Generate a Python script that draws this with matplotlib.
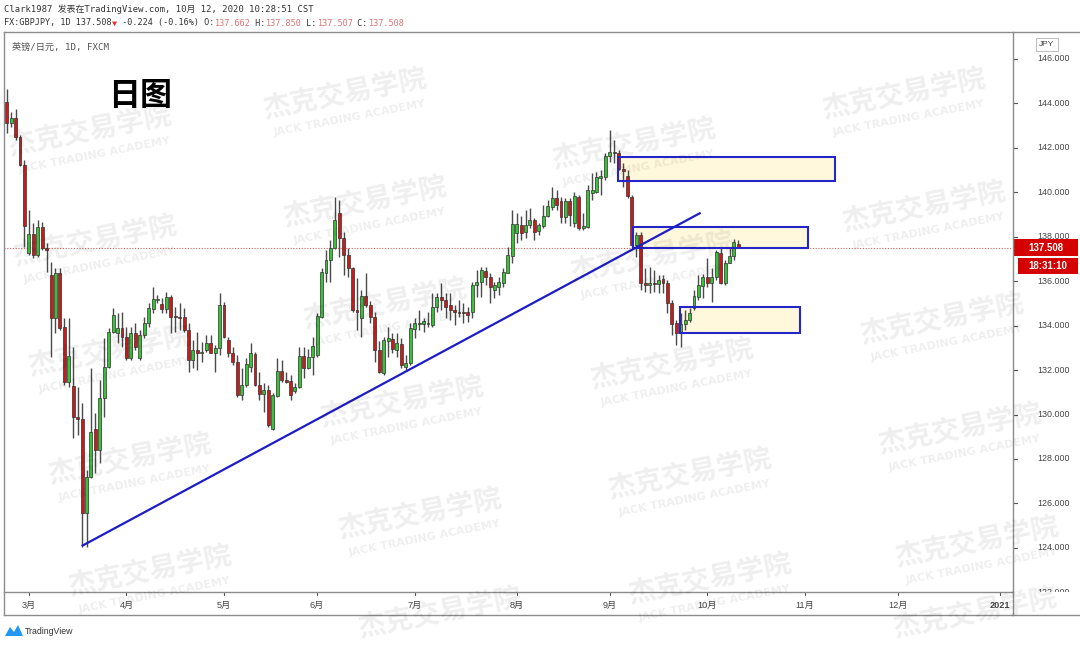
import matplotlib
matplotlib.use('Agg')
import matplotlib.pyplot as plt
from matplotlib.patches import Rectangle, Polygon
from matplotlib.lines import Line2D
import numpy as np

W, H = 1080, 645

# GBPJPY daily bars (late Feb -> 12 Oct 2020)
opens = [144.08, 143.10, 143.33, 142.47, 141.23, 137.26, 138.13, 137.18, 138.43, 137.48,
         136.28, 134.33, 136.36, 133.95, 131.48, 131.28, 129.90, 129.78, 125.58, 127.21,
         129.34, 128.41, 130.73, 132.16, 133.73, 133.65, 133.88, 133.50, 132.53, 133.66,
         132.53, 133.58, 134.10, 134.74, 135.15, 134.97, 134.74, 135.28, 134.41, 134.38,
         134.37, 133.80, 132.46, 132.90, 132.78, 132.90, 133.23, 132.78, 132.98, 134.93,
         133.35, 132.75, 132.38, 130.88, 131.33, 132.15, 132.72, 131.33, 130.91, 131.10,
         129.33, 130.83, 131.97, 131.55, 131.52, 131.07, 131.23, 132.63, 132.08, 132.60,
         132.68, 134.40, 136.35, 136.95, 137.48, 139.05, 137.93, 137.18, 136.58, 134.70,
         134.33, 135.33, 134.93, 134.40, 132.90, 131.88, 133.32, 133.38, 132.90, 133.17,
         132.13, 132.30, 133.85, 134.08, 134.08, 134.08, 134.03, 134.85, 135.30, 135.15,
         134.93, 134.70, 134.62, 134.60, 134.63, 134.63, 135.83, 135.98, 136.48, 136.20,
         135.60, 135.75, 135.90, 136.39, 137.13, 138.15, 138.53, 138.23, 138.53, 138.76,
         138.28, 138.48, 138.93, 139.33, 139.73, 139.62, 138.90, 139.60, 138.60, 139.80,
         138.38, 138.46, 139.98, 140.03, 140.65, 140.70, 141.63, 141.83, 141.78, 141.03,
         140.73, 139.80, 137.63, 138.08, 135.90, 135.85, 135.93, 135.87, 136.09, 135.90,
         135.04, 134.10, 133.66, 134.07, 134.25, 134.78, 135.30, 135.80, 136.20, 135.90,
         136.18, 137.28, 135.90, 136.80, 137.13, 137.662]
highs = [144.64, 143.63, 143.74, 142.58, 141.46, 139.21, 138.61, 138.76, 138.68, 137.70,
         136.88, 136.58, 136.58, 134.33, 134.33, 133.06, 131.26, 130.50, 127.50, 132.08,
         130.05, 131.56, 133.43, 133.88, 134.78, 134.56, 134.63, 133.95, 133.95, 134.10,
         133.80, 134.40, 135.00, 135.75, 135.38, 135.23, 135.53, 135.38, 134.86, 135.00,
         134.78, 134.10, 133.35, 133.73, 133.28, 133.58, 133.58, 133.13, 135.48, 135.08,
         133.50, 133.05, 132.68, 132.08, 132.53, 133.23, 132.83, 131.93, 131.40, 131.33,
         130.95, 132.53, 132.45, 131.93, 131.78, 131.40, 133.05, 133.05, 132.93, 133.50,
         134.55, 136.58, 137.40, 137.85, 139.80, 139.65, 138.23, 137.48, 136.65, 136.13,
         135.60, 136.35, 135.12, 134.63, 133.30, 133.50, 133.95, 133.66, 133.66, 133.43,
         132.68, 134.10, 134.33, 134.70, 134.33, 134.63, 135.45, 135.45, 135.93, 135.45,
         135.49, 134.93, 135.15, 135.00, 134.85, 135.98, 136.50, 136.65, 136.65, 136.35,
         135.98, 136.20, 136.58, 137.55, 139.20, 139.05, 138.93, 139.20, 139.28, 138.83,
         138.60, 139.43, 139.65, 140.25, 140.10, 139.80, 139.73, 139.75, 140.03, 139.88,
         139.05, 140.33, 140.85, 140.93, 141.00, 141.75, 142.80, 142.35, 141.90, 141.30,
         141.00, 139.88, 138.23, 138.23, 136.58, 136.65, 136.50, 136.28, 136.28, 136.05,
         135.15, 134.25, 134.55, 134.70, 134.78, 135.60, 136.28, 136.32, 137.03, 136.58,
         137.40, 137.55, 136.95, 137.55, 137.88, 137.850]
lows = [142.66, 142.96, 142.36, 141.19, 137.56, 137.18, 137.03, 137.10, 137.40, 136.43,
        132.60, 133.65, 133.80, 131.33, 131.26, 128.93, 129.08, 124.06, 124.06, 127.13,
        127.36, 127.80, 129.91, 132.10, 133.66, 133.21, 133.06, 132.46, 132.46, 132.90,
        132.46, 133.43, 133.95, 134.56, 135.00, 134.56, 134.56, 133.66, 133.73, 133.80,
        133.73, 131.93, 132.08, 132.00, 132.38, 132.83, 132.75, 131.93, 132.68, 133.45,
        132.60, 132.23, 130.80, 130.65, 131.25, 131.93, 131.28, 130.65, 130.13, 129.45,
        129.30, 130.80, 131.48, 131.40, 130.65, 130.95, 131.18, 131.63, 132.05, 131.78,
        132.60, 134.33, 135.98, 135.98, 137.45, 137.10, 136.28, 136.20, 134.63, 133.80,
        133.50, 134.85, 134.10, 132.38, 131.85, 131.78, 132.60, 132.76, 132.60, 132.08,
        131.95, 132.23, 133.43, 133.80, 133.73, 133.96, 133.95, 134.63, 134.70, 134.33,
        134.26, 134.03, 134.40, 134.10, 134.18, 134.33, 135.30, 135.30, 135.83, 135.00,
        135.23, 135.38, 135.75, 136.35, 136.80, 137.70, 137.85, 137.93, 138.38, 137.85,
        138.08, 138.38, 138.87, 139.20, 139.20, 138.60, 138.60, 138.50, 138.45, 138.30,
        138.30, 138.38, 139.65, 139.98, 139.88, 140.55, 141.38, 141.30, 141.00, 140.25,
        139.73, 137.55, 137.10, 135.60, 135.53, 135.45, 135.53, 135.45, 135.45, 134.55,
        133.58, 133.13, 133.05, 133.80, 134.18, 134.70, 135.15, 135.23, 135.75, 135.08,
        136.05, 135.87, 135.83, 136.80, 136.95, 137.507]
closes = [143.10, 143.33, 142.47, 141.23, 138.50, 138.13, 137.18, 138.43, 137.48, 137.40,
          134.33, 136.36, 133.88, 131.48, 132.63, 129.90, 129.78, 125.58, 127.21, 129.23,
          128.41, 130.73, 132.16, 133.73, 134.48, 133.88, 133.50, 132.53, 133.66, 133.05,
          133.58, 134.10, 134.78, 135.19, 135.19, 134.74, 135.28, 134.41, 134.38, 134.35,
          133.80, 132.46, 132.90, 132.75, 132.82, 133.23, 132.78, 132.98, 134.93, 133.50,
          132.75, 132.38, 130.88, 131.33, 132.27, 132.75, 131.33, 130.91, 131.10, 129.53,
          130.88, 131.97, 131.55, 131.48, 130.88, 131.25, 132.63, 132.08, 132.60, 133.08,
          134.43, 136.43, 136.95, 137.48, 138.75, 137.93, 137.18, 136.58, 134.70, 134.62,
          135.33, 134.93, 134.40, 132.90, 131.93, 133.35, 133.43, 132.93, 133.20, 132.23,
          132.34, 133.88, 134.10, 134.12, 134.22, 134.12, 134.85, 135.30, 135.15, 134.85,
          134.70, 134.62, 134.58, 134.55, 134.48, 135.83, 135.98, 136.50, 136.20, 135.75,
          135.83, 135.98, 136.43, 137.18, 138.57, 138.57, 138.16, 138.53, 138.76, 138.23,
          138.53, 138.93, 139.38, 139.73, 139.43, 138.90, 139.62, 138.96, 139.83, 138.38,
          138.48, 140.10, 140.10, 140.70, 140.72, 141.63, 141.83, 141.76, 141.03, 140.97,
          139.83, 137.63, 138.08, 135.90, 135.83, 135.92, 135.87, 136.05, 135.90, 135.04,
          134.07, 133.66, 134.07, 134.25, 134.55, 135.33, 135.83, 136.20, 135.90, 136.20,
          137.33, 135.90, 136.83, 137.13, 137.78, 137.508]

month_labels = ['3月', '4月', '5月', '6月', '7月', '8月', '9月', '10月', '11月', '12月', '2021']
month_pos = [5, 27, 49, 70, 92, 115, 136, 158, 180, 201, 224]   # bar index of 1st trading day
price_ticks = [122, 124, 126, 128, 130, 132, 134, 136, 138, 140, 142, 144, 146]

trend_x = [16.9, 156.5]
trend_y = [124.08, 139.08]
# zones: bar_start, bar_end, price_low, price_high
zones = [(137.8, 186.7, 140.52, 141.60),
         (141.3, 180.7, 137.51, 138.43),
         (151.8, 178.8, 133.68, 134.83)]
last_price = 137.508
countdown = '18:31:10'

# watermark centres (px); last flag = draw the english line too
watermarks = [(90, 132, True), (95, 242, True), (110, 352, True), (130, 460, True),
              (150, 572, True),
              (345, 95, True), (365, 203, True), (385, 305, True), (402, 403, True),
              (420, 515, True), (440, 614, False),
              (634, 145, True), (652, 258, True), (672, 365, True), (690, 475, True),
              (710, 580, True),
              (904, 95, True), (924, 208, True), (942, 320, True), (960, 430, True),
              (977, 543, True), (975, 614, False)]

GREEN = '#38c238'
RED = '#cc1a1a'
FRAME = '#8c8c8c'
CJK = ['DejaVu Sans Mono', 'Noto Sans CJK SC']
SANS = ['Liberation Sans', 'Noto Sans CJK SC']


def fx(x):
    return x / W


def fy(y):
    return 1 - y / H


fig = plt.figure(figsize=(W / 100, H / 100), dpi=100)
fig.patch.set_facecolor('white')

x_left, x_right = -0.61, 226.93
y_bot, y_top = 122.013, 147.215

# main price pane
ax = fig.add_axes([fx(4), fy(592), (1013 - 4) / W, (592 - 32) / H])
ax.set_xlim(x_left, x_right)
ax.set_ylim(y_bot, y_top)
ax.axis('off')

idx = np.arange(len(opens))
o = np.array(opens)
c = np.array(closes)
up = c >= o
cols = np.where(up, GREEN, RED)
body_lo = np.minimum(o, c)
body_h = np.maximum(np.abs(c - o), 0.045)

for x0, x1, p0, p1 in zones:
    ax.add_patch(Rectangle((x0, p0), x1 - x0, p1 - p0, facecolor='#fff8dc',
                           edgecolor='none', zorder=1))

ax.axhline(last_price, color='#e0605a', lw=0.8, ls=(0, (1, 1.5)), zorder=1.5)
ax.vlines(idx, lows, highs, color='#4a4a4a', lw=1, zorder=2)
ax.bar(idx, body_h, bottom=body_lo, width=0.66, color=cols, edgecolor='#333333',
       linewidth=0.5, zorder=3)

for x0, x1, p0, p1 in zones:
    ax.add_patch(Rectangle((x0, p0), x1 - x0, p1 - p0, fill=False,
                           edgecolor='#2424c8', lw=1.5, zorder=4))
ax.plot(trend_x, trend_y, color='#1c1cc8', lw=1.6, zorder=4, solid_capstyle='butt')

ax.text(8 / 1009, 1 - 15 / 560, '英镑/日元, 1D, FXCM', transform=ax.transAxes,
        fontsize=6.6, color='#555555', family=CJK, va='center')
fig.text(fx(140), fy(96), '日图', fontsize=23, fontweight='bold',
         family=['Noto Sans CJK SC'], ha='center', va='center', color='black')

# price scale
axp = fig.add_axes([fx(1013), fy(592), (1080 - 1013) / W, (592 - 32) / H])
axp.set_xlim(0, 67)
axp.set_ylim(y_bot, y_top)
axp.axis('off')
for p in price_ticks:
    axp.plot([0, 4], [p, p], color='#555555', lw=0.8, clip_on=True)
    axp.text(24, p, f'{p:.3f}', fontsize=6.4, family=SANS, color='#444444',
             va='center', ha='left', clip_on=True)
px_unit = (y_top - y_bot) / 560
axp.add_patch(Rectangle((1, last_price - 8.5 * px_unit), 64, 17.5 * px_unit,
                        facecolor='#d50000', edgecolor='none', zorder=5))
axp.text(33, last_price, f'{last_price:.3f}', fontsize=7, fontweight='bold',
         family=SANS, color='white', ha='center', va='center', zorder=6)
cd = last_price - 18 * px_unit
axp.add_patch(Rectangle((5, cd - 8 * px_unit), 60, 16 * px_unit,
                        facecolor='#d50000', edgecolor='none', zorder=5))
axp.text(35, cd, countdown, fontsize=7, fontweight='bold', family=SANS,
         color='white', ha='center', va='center', zorder=6)
fig.text(fx(1047), fy(44.5), 'JPY', fontsize=6, family=SANS, color='#444444',
         ha='center', va='center',
         bbox=dict(boxstyle='square,pad=0.35', fc='white', ec='#c0c0c0', lw=0.8))

# time scale
axt = fig.add_axes([fx(4), fy(615), (1013 - 4) / W, (615 - 592) / H])
axt.set_xlim(x_left, x_right)
axt.set_ylim(23, 0)
axt.axis('off')
for pos, lab in zip(month_pos, month_labels):
    axt.plot([pos, pos], [0, 3], color='#555555', lw=0.8)
    axt.text(pos, 13, lab, fontsize=6.6, family=SANS, color='#444444',
             ha='center', va='center',
             fontweight='bold' if lab == '2021' else 'normal')

# frame lines
for (x0, y0, x1, y1) in [(4, 32, 1080, 32), (4, 32, 4, 615), (1013, 32, 1013, 615),
                         (4, 592, 1013, 592), (4, 615, 1080, 615)]:
    fig.add_artist(Line2D([fx(x0), fx(x1)], [fy(y0), fy(y1)], color=FRAME, lw=1))

# header
fig.text(fx(4), fy(9), 'Clark1987 发表在TradingView.com, 10月 12, 2020 10:28:51 CST',
         fontsize=6.4, family=CJK, color='#333333', va='center')
pieces = [('FX:GBPJPY, 1D 137.508', '#333333'), ('▼', '#e53935'),
          (' -0.224 (-0.16%) O:', '#333333'), ('137.662', '#e57373'),
          (' H:', '#333333'), ('137.850', '#e57373'), (' L:', '#333333'),
          ('137.507', '#e57373'), (' C:', '#333333'), ('137.508', '#e57373')]
renderer = fig.canvas.get_renderer()
xcur = 4
for txt, col in pieces:
    t = fig.text(fx(xcur), fy(23), txt, fontsize=6.1, family=CJK, color=col, va='center')
    bb = t.get_window_extent(renderer=renderer)
    xcur += bb.width

# TradingView footer
fig.add_artist(Polygon([(fx(5), fy(636)), (fx(10), fy(627)), (fx(14), fy(632)),
                        (fx(18), fy(625)), (fx(23), fy(636))], closed=True,
                       facecolor='#2196f3', edgecolor='none'))
fig.text(fx(25), fy(631), 'TradingView', fontsize=6.3, family=SANS,
         color='#333333', va='center')

# watermark
for wx, wy, eng in watermarks:
    fig.text(fx(wx), fy(wy), '杰克交易学院', fontsize=20, fontweight='bold',
             family=['Noto Sans CJK SC'], color='black', alpha=0.065,
             rotation=11, ha='center', va='center', rotation_mode='anchor', zorder=10)
    if eng:
        fig.text(fx(wx + 5), fy(wy + 23), 'JACK TRADING ACADEMY', fontsize=8,
                 fontweight='bold', family=['DejaVu Sans'], color='black', alpha=0.065,
                 rotation=11, ha='center', va='center', rotation_mode='anchor', zorder=10)

fig.savefig('out.png', dpi=100)
